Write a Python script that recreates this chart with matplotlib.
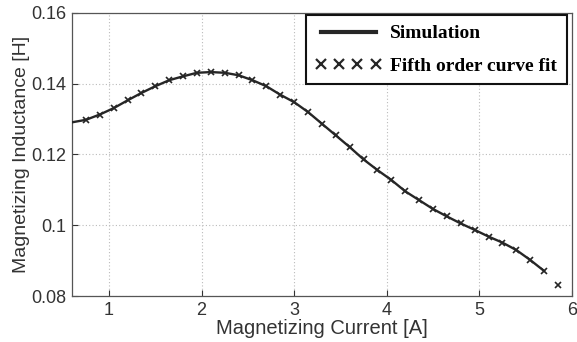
import matplotlib
matplotlib.use("Agg")
import matplotlib.pyplot as plt
from matplotlib.lines import Line2D

# Data
sim_current = [0.60, 0.75, 0.90, 1.05, 1.20, 1.35, 1.50, 1.65, 1.80, 1.95, 2.10, 2.25,
               2.40, 2.55, 2.70, 2.85, 3.00, 3.15, 3.30, 3.45, 3.60, 3.75, 3.90, 4.05,
               4.20, 4.35, 4.50, 4.65, 4.80, 4.95, 5.10, 5.25, 5.40, 5.55, 5.70]
sim_inductance = [0.1291, 0.1298, 0.1313, 0.1331, 0.1353, 0.1374, 0.1393, 0.1410, 0.1421,
                  0.1431, 0.1433, 0.1431, 0.1424, 0.1410, 0.1393, 0.1369, 0.1348, 0.1320,
                  0.1287, 0.1254, 0.1221, 0.1186, 0.1156, 0.1128, 0.1096, 0.1071, 0.1046,
                  0.1025, 0.1005, 0.0987, 0.0968, 0.0951, 0.0930, 0.0902, 0.0871]

fit_current = [0.75, 0.90, 1.05, 1.20, 1.35, 1.50, 1.65, 1.80, 1.95, 2.10, 2.25, 2.40,
               2.55, 2.70, 2.85, 3.00, 3.15, 3.30, 3.45, 3.60, 3.75, 3.90, 4.05, 4.20,
               4.35, 4.50, 4.65, 4.80, 4.95, 5.10, 5.25, 5.40, 5.55, 5.70, 5.85]
fit_inductance = [0.1298, 0.1313, 0.1331, 0.1353, 0.1374, 0.1393, 0.1410, 0.1421, 0.1431,
                  0.1433, 0.1431, 0.1424, 0.1410, 0.1393, 0.1369, 0.1348, 0.1320, 0.1287,
                  0.1254, 0.1221, 0.1186, 0.1156, 0.1128, 0.1096, 0.1071, 0.1046, 0.1025,
                  0.1005, 0.0987, 0.0968, 0.0951, 0.0930, 0.0902, 0.0871, 0.0830]

x_ticks = [1, 2, 3, 4, 5, 6]
y_ticks = [0.08, 0.1, 0.12, 0.14, 0.16]
y_tick_labels = ["0.08", "0.1", "0.12", "0.14", "0.16"]

plt.rcParams["font.family"] = ["Liberation Sans", "DejaVu Sans"]

fig = plt.figure(figsize=(5.77, 3.42), dpi=100)
ax = fig.add_axes([0.1248, 0.1345, 0.8662, 0.8275])

ink = "#262626"
ax.plot(sim_current, sim_inductance, color=ink, lw=1.7, zorder=3)
ax.plot(fit_current, fit_inductance, linestyle="none", marker="x", color=ink,
        markersize=5, markeredgewidth=1.2, zorder=4)

ax.set_xlim(0.6, 6)
ax.set_ylim(0.08, 0.16)
ax.set_xticks(x_ticks)
ax.set_yticks(y_ticks)
ax.set_yticklabels(y_tick_labels)
ax.tick_params(direction="in", length=4, labelsize=13, colors="#333333", pad=4)
ax.grid(True, linestyle=(0, (1, 2)), color="#bbbbbb", lw=0.8)
for s in ax.spines.values():
    s.set_color("#555555")
    s.set_linewidth(0.9)

ax.set_xlabel("Magnetizing Current [A]", fontsize=14.5, color="#333333", labelpad=0)
ax.set_ylabel("Magnetizing Inductance [H]", fontsize=14, color="#333333", labelpad=1)

handles = [Line2D([], [], color=ink, lw=3),
           Line2D([], [], color=ink, linestyle="none", marker="x", markersize=7,
                  markeredgewidth=1.6)]
leg = ax.legend(handles, ["Simulation", "Fifth order curve fit"],
                loc="upper right", numpoints=4, handlelength=3.4, handletextpad=0.45,
                borderpad=0.5, labelspacing=0.75, fancybox=False, framealpha=1,
                edgecolor="#111111", bbox_to_anchor=(0.99, 0.993), borderaxespad=0,
                prop={"family": "Liberation Serif", "weight": "bold", "size": 14})
leg.get_frame().set_linewidth(1.5)

fig.savefig("out.png", dpi=100)
